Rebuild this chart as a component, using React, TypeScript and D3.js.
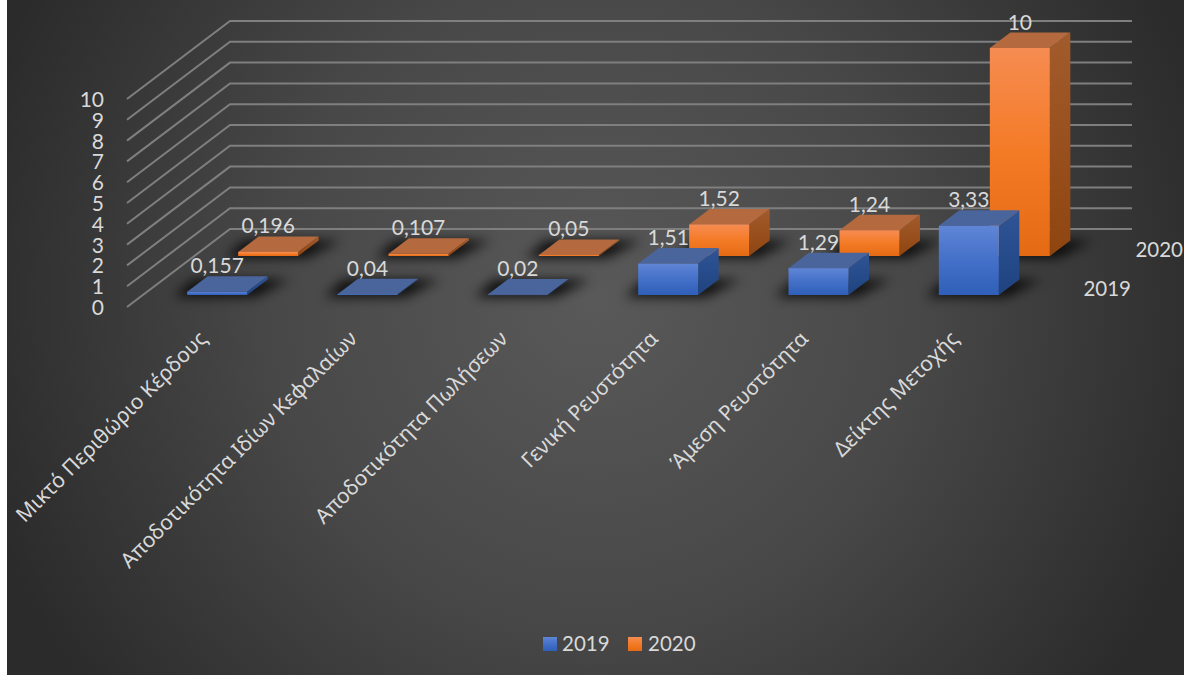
import React from "react";
import * as d3 from "d3";

const categories = [
  "Μικτό Περιθώριο Κέρδους",
  "Αποδοτικότητα Ιδίων Κεφαλαίων",
  "Αποδοτικότητα Πωλήσεων",
  "Γενική Ρευστότητα",
  "Άμεση Ρευστότητα",
  "Δείκτης Μετοχής",
];
const years = ["2019", "2020"];
const values2019 = [0.157, 0.04, 0.02, 1.51, 1.29, 3.33];
const values2020 = [0.196, 0.107, 0.05, 1.52, 1.24, 10];
const labels2019 = ["0,157", "0,04", "0,02", "1,51", "1,29", "3,33"];
const labels2020 = ["0,196", "0,107", "0,05", "1,52", "1,24", "10"];
const valueTicks = d3.range(0, 11);

const WIDTH = 1184;
const HEIGHT = 675;
const FONT = "Lato, 'Noto Sans', sans-serif";
const TEXT = "#d9d9d9";

// Oblique projection of the chart box
const unit = d3.scaleLinear().domain([0, 10]).range([0, 208]);
const categoryX = d3.scaleBand<string>().domain(categories).range([142, 1044]);
const rowBaseY = d3.scalePoint<string>().domain(years).range([295, 256]);
const rowShiftX = d3.scalePoint<string>().domain(years).range([0, 51]);
const BAR_W = 60;
const DEPTH_X = 20.5;
const DEPTH_Y = 15.5;

const palette: Record<string, { front: string; side: string; top: string }> = {
  "2019": { front: "url(#front2019)", side: "url(#side2019)", top: "#4a659c" },
  "2020": { front: "url(#front2020)", side: "url(#side2020)", top: "#b46a3e" },
};

type Bar = { year: string; cat: string; value: number; label: string };

const rows: Bar[][] = [
  categories.map((cat, i) => ({ year: "2020", cat, value: values2020[i], label: labels2020[i] })),
  categories.map((cat, i) => ({ year: "2019", cat, value: values2019[i], label: labels2019[i] })),
];

function geometry(b: Bar) {
  const band = categoryX(b.cat)!;
  const x0 = band + (categoryX.bandwidth() - BAR_W) / 2 + rowShiftX(b.year)!;
  const x1 = x0 + BAR_W;
  const base = rowBaseY(b.year)!;
  const top = base - unit(b.value);
  return { x0, x1, base, top };
}

const poly = (pts: [number, number][]) => d3.line()(pts)! + "Z";

function Box({ bar }: { bar: Bar }) {
  const { x0, x1, base, top } = geometry(bar);
  const c = palette[bar.year];
  return (
    <g>
      <path
        d={poly([[x1, base], [x1 + DEPTH_X, base - DEPTH_Y], [x1 + DEPTH_X, top - DEPTH_Y], [x1, top]])}
        fill={c.side}
      />
      <path
        d={poly([[x0, top], [x1, top], [x1 + DEPTH_X, top - DEPTH_Y], [x0 + DEPTH_X, top - DEPTH_Y]])}
        fill={c.top}
      />
      <rect x={x0} y={top} width={BAR_W} height={Math.max(base - top, 0.5)} fill={c.front} />
    </g>
  );
}

function Floor({ bar }: { bar: Bar }) {
  const { x0, x1, base } = geometry(bar);
  return (
    <path
      d={poly([
        [x0 - 13, base + 2],
        [x1 + 8, base + 2],
        [x1 + DEPTH_X + 22, base - DEPTH_Y],
        [x0 + 6, base - DEPTH_Y],
      ])}
      fill="#000"
      opacity={0.8}
      filter="url(#floorShadow)"
    />
  );
}

function Gradient({ id, from, to, mid }: { id: string; from: string; to: string; mid?: string }) {
  return (
    <linearGradient id={id} x1="0" y1="0" x2="0" y2="1">
      <stop offset="0" stopColor={from} />
      {mid ? <stop offset="0.5" stopColor={mid} /> : null}
      <stop offset="1" stopColor={to} />
    </linearGradient>
  );
}

export default function App() {
  const gridBack = 229;
  const gridLeft = 230;
  const gridRight = 1132;
  const axisFrontX = 127;
  const axisFrontY = 307;
  return (
    <svg
      width={WIDTH}
      height={HEIGHT}
      viewBox={`0 0 ${WIDTH} ${HEIGHT}`}
      style={{ position: "absolute", left: 0, top: 0, background: "#fff" }}
      fontFamily={FONT}
    >
      <defs>
        <radialGradient id="panel" gradientUnits="userSpaceOnUse" cx={595} cy={300} r={640}>
          <stop offset="0" stopColor="#595959" />
          <stop offset="0.5" stopColor="#484848" />
          <stop offset="1" stopColor="#2b2b2b" />
        </radialGradient>
        <Gradient id="front2019" from="#5f85d6" mid="#4470c8" to="#2f5fb8" />
        <Gradient id="side2019" from="#2f5596" to="#1f4380" />
        <Gradient id="front2020" from="#f68c52" mid="#f47b26" to="#e56a14" />
        <Gradient id="side2020" from="#a25b2c" to="#8f4510" />
        <filter id="floorShadow" x="-40%" y="-150%" width="180%" height="400%">
          <feGaussianBlur stdDeviation="6" />
        </filter>
      </defs>

      <rect x={7} y={0} width={WIDTH - 7} height={HEIGHT} fill="url(#panel)" />

      {/* Grid: wall lines with their slanted run down the side */}
      <g stroke="#7f7f7f" strokeWidth={2} fill="none">
        {valueTicks.map((t) => (
          <path
            key={t}
            d={d3.line()([
              [axisFrontX, axisFrontY - unit(t)],
              [gridLeft, gridBack - unit(t)],
              [gridRight, gridBack - unit(t)],
            ])!}
          />
        ))}
      </g>

      {/* Value axis */}
      <g fill={TEXT} fontSize={21} textAnchor="end">
        {valueTicks.map((t) => (
          <text key={t} x={104} y={315 - unit(t)}>
            {t}
          </text>
        ))}
      </g>

      {/* Bars, back row first */}
      {rows.map((row) => (
        <g key={row[0].year}>
          {row.map((b) => (
            <Floor key={b.cat} bar={b} />
          ))}
          {row.map((b) => (
            <Box key={b.cat} bar={b} />
          ))}
        </g>
      ))}

      {/* Value labels */}
      <g fill={TEXT} fontSize={21} textAnchor="middle">
        {rows.flat().map((b) => {
          const { x0, top } = geometry(b);
          return (
            <text key={b.year + b.cat} x={x0 + BAR_W / 2} y={top - DEPTH_Y - 3}>
              {b.label}
            </text>
          );
        })}
      </g>

      {/* Category axis */}
      <g fill={TEXT} fontFamily="'Noto Sans', sans-serif" fontSize={21} textAnchor="end">
        {categories.map((c) => {
          const x = categoryX(c)! + categoryX.bandwidth() / 2 - 9;
          return (
            <text key={c} transform={`translate(${x},340) rotate(-45)`}>
              {c}
            </text>
          );
        })}
      </g>

      {/* Depth axis */}
      <g fill={TEXT} fontSize={20.5} textAnchor="end">
        <text x={1131} y={296}>{years[0]}</text>
        <text x={1183} y={257}>{years[1]}</text>
      </g>

      {/* Legend */}
      <g fontSize={20.5} fill={TEXT}>
        <rect x={543} y={637} width={14} height={14} fill="url(#front2019)" />
        <text x={562} y={651}>{years[0]}</text>
        <rect x={628} y={637} width={14} height={14} fill="url(#front2020)" />
        <text x={648} y={651}>{years[1]}</text>
      </g>
    </svg>
  );
}
